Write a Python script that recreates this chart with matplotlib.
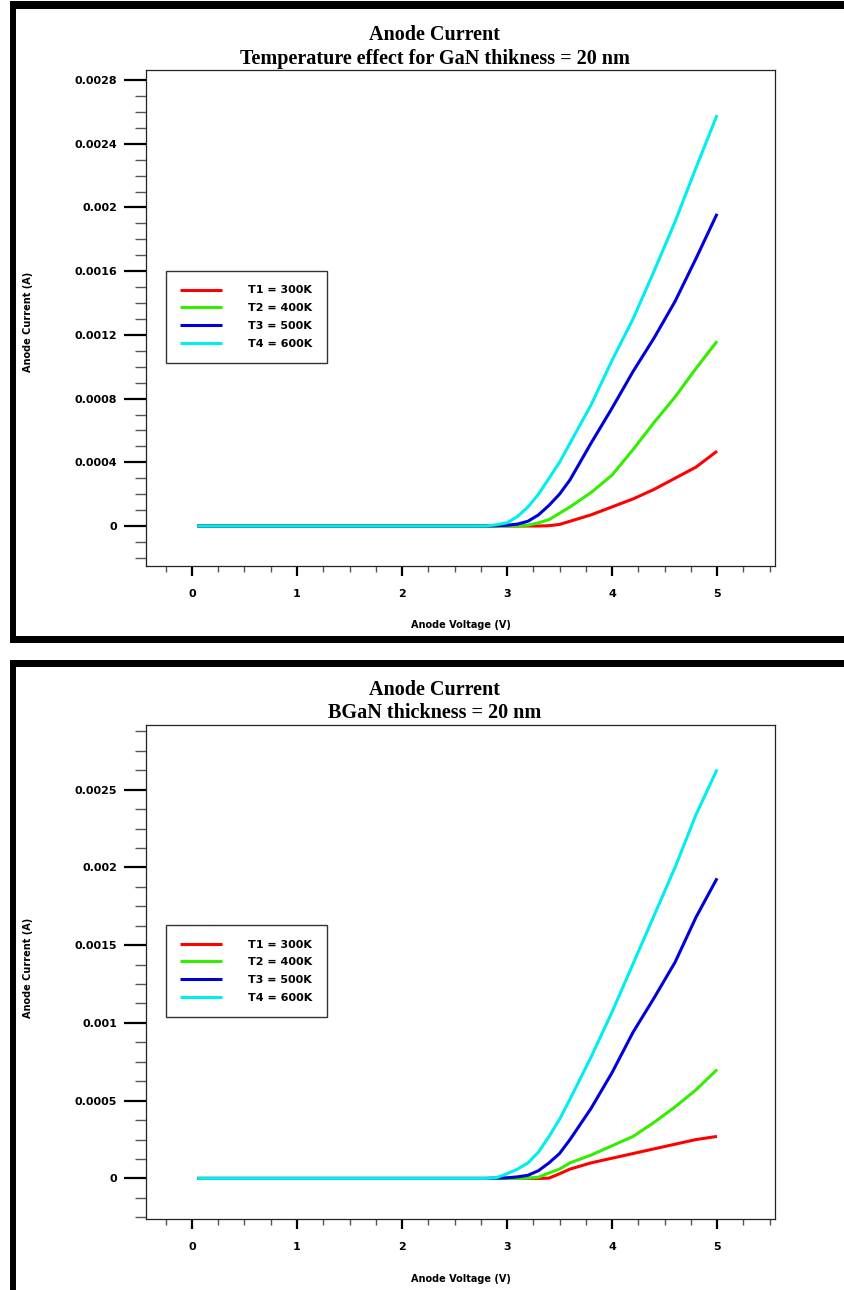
import matplotlib.pyplot as plt
from matplotlib.patches import Rectangle

# Data
voltage = [0.05, 0.5, 1.0, 1.5, 2.0, 2.5, 2.8, 2.9, 3.0, 3.1, 3.2, 3.3, 3.4, 3.5,
           3.6, 3.8, 4.0, 4.2, 4.4, 4.6, 4.8, 5.0]

# GaN thickness = 20 nm
gan_t1 = [0, 0, 0, 0, 0, 0, 0, 0, 0, 0, 0, 0, 0.000002, 0.00001,
          0.00003, 0.00007, 0.00012, 0.00017, 0.00023, 0.0003, 0.00037, 0.00047]
gan_t2 = [0, 0, 0, 0, 0, 0, 0, 0, 0, 0.000001, 0.000005, 0.00002, 0.00004, 0.00008,
          0.00012, 0.00021, 0.00032, 0.00048, 0.00065, 0.00081, 0.00099, 0.00116]
gan_t3 = [0, 0, 0, 0, 0, 0, 0, 0.000002, 0.000005, 0.000012, 0.00003, 0.00007, 0.00013, 0.0002,
          0.00029, 0.00052, 0.00074, 0.00097, 0.00118, 0.00141, 0.00168, 0.00196]
gan_t4 = [0, 0, 0, 0, 0, 0, 0, 0.000008, 0.00002, 0.00006, 0.00012, 0.0002, 0.0003, 0.0004,
          0.00052, 0.00076, 0.00104, 0.0013, 0.0016, 0.00191, 0.00225, 0.00258]

# BGaN thickness = 20 nm
bgan_t1 = [0, 0, 0, 0, 0, 0, 0, 0, 0, 0, 0, 0, 0.000002, 0.00003,
           0.00006, 0.0001, 0.00013, 0.00016, 0.00019, 0.00022, 0.00025, 0.00027]
bgan_t2 = [0, 0, 0, 0, 0, 0, 0, 0, 0, 0, 0.000002, 0.000008, 0.000035, 0.00006,
           0.0001, 0.00015, 0.00021, 0.00027, 0.00036, 0.00046, 0.00057, 0.0007]
bgan_t3 = [0, 0, 0, 0, 0, 0, 0, 0.000002, 0.000004, 0.00001, 0.00002, 0.00005, 0.0001, 0.00016,
           0.00025, 0.00045, 0.00068, 0.00094, 0.00116, 0.00139, 0.00168, 0.00193]
bgan_t4 = [0, 0, 0, 0, 0, 0, 0, 0.000005, 0.00003, 0.00006, 0.0001, 0.00017, 0.00027, 0.00038,
           0.00051, 0.00078, 0.00107, 0.00138, 0.00169, 0.002, 0.00234, 0.00263]

series_labels = ['T1 = 300K', 'T2 = 400K', 'T3 = 500K', 'T4 = 600K']
series_colors = ['#ff0000', '#33ee00', '#0000dd', '#00eeee']

x_ticks = [0, 1, 2, 3, 4, 5]
x_ticklabels = ['0', '1', '2', '3', '4', '5']
gan_yticks = [0, 0.0004, 0.0008, 0.0012, 0.0016, 0.002, 0.0024, 0.0028]
gan_yticklabels = ['0', '0.0004', '0.0008', '0.0012', '0.0016', '0.002', '0.0024', '0.0028']
bgan_yticks = [0, 0.0005, 0.001, 0.0015, 0.002, 0.0025]
bgan_yticklabels = ['0', '0.0005', '0.001', '0.0015', '0.002', '0.0025']

plt.rcParams['font.family'] = 'DejaVu Sans'

W, H = 845, 1290
fig = plt.figure(figsize=(W / 100, H / 100), dpi=100)
fig.patch.set_facecolor('white')
PT = 72 / 100  # points per pixel


def box(x0, y0, x1, y1):
    # pixel box (top-left origin) -> figure fraction [left, bottom, width, height]
    return [x0 / W, 1 - y1 / H, (x1 - x0) / W, (y1 - y0) / H]


def bar(x0, y0, x1, y1):
    l, b, w, h = box(x0, y0, x1, y1)
    fig.add_artist(Rectangle((l, b), w, h, transform=fig.transFigure,
                             facecolor='black', edgecolor='none', zorder=10))


# thick window frames of the screenshot
bar(10, 1, W, 9)
bar(10, 1, 16, 643)
bar(10, 636, W, 643)
bar(10, 660, W, 667)
bar(10, 660, 16, H)


def panel(ax_box, curves, yticks, yticklabels, ylim, minor_step, titles, title_y,
          ylabel_y, xlabel_y, legend_y):
    ax = fig.add_axes(box(*ax_box))
    for vals, lab, col in zip(curves, series_labels, series_colors):
        ax.plot(voltage, vals, color=col, lw=2.2, label=lab, solid_capstyle='butt')

    ax.set_xlim(-0.438, 5.552)
    ax.set_ylim(*ylim)
    ax.set_xticks(x_ticks, x_ticklabels, fontweight='bold', fontsize=8)
    ax.set_xticks([v * 0.25 for v in range(-1, 23) if v % 4 != 0], minor=True)
    ax.set_yticks(yticks, yticklabels, fontweight='bold', fontsize=8)
    lo = int(ylim[0] / minor_step) - 1
    hi = int(ylim[1] / minor_step) + 1
    ax.set_yticks([k * minor_step for k in range(lo, hi)
                   if ylim[0] <= k * minor_step <= ylim[1]], minor=True)

    ax.tick_params(axis='y', which='major', length=22 * PT, width=1.6, color='black', pad=7 * PT)
    ax.tick_params(axis='y', which='minor', length=11 * PT, width=1.0, color='#555555')
    ax.tick_params(axis='x', which='major', length=10 * PT, width=1.6, color='black', pad=13 * PT)
    ax.tick_params(axis='x', which='minor', length=6 * PT, width=1.0, color='#555555')
    for s in ax.spines.values():
        s.set_linewidth(0.9)
        s.set_color('#222222')

    leg = ax.legend(loc='upper left', bbox_to_anchor=(0.0318, legend_y),
                    borderaxespad=0, fancybox=False, framealpha=1,
                    edgecolor='#333333', handlelength=3.7, handletextpad=2.4,
                    borderpad=1.3, labelspacing=0.7,
                    prop={'weight': 'bold', 'size': 8})
    leg.get_frame().set_linewidth(1.0)

    for t, ty in zip(titles, title_y):
        fig.text(435 / W, 1 - ty / H, t, ha='center', va='center',
                 fontsize=14.5, fontweight='bold', family='Liberation Serif')
    fig.text(461 / W, 1 - xlabel_y / H, 'Anode Voltage (V)', ha='center', va='center',
             fontsize=7, fontweight='bold')
    fig.text(28 / W, 1 - ylabel_y / H, 'Anode Current (A)', ha='center', va='center',
             rotation=90, fontsize=7, fontweight='bold')
    return ax


panel((146, 70, 775, 566), [gan_t1, gan_t2, gan_t3, gan_t4],
      gan_yticks, gan_yticklabels, (-0.000251, 0.002863), 0.0001,
      ['Anode Current', 'Temperature effect for GaN thikness = 20 nm'], (35, 59),
      322, 625, 0.5948)

panel((146, 725, 775, 1219), [bgan_t1, bgan_t2, bgan_t3, bgan_t4],
      bgan_yticks, bgan_yticklabels, (-0.000261, 0.002916), 0.000125,
      ['Anode Current', 'BGaN thickness = 20 nm'], (690, 713),
      968, 1279, 0.595)

fig.savefig('out.png', dpi=100, facecolor='white')
